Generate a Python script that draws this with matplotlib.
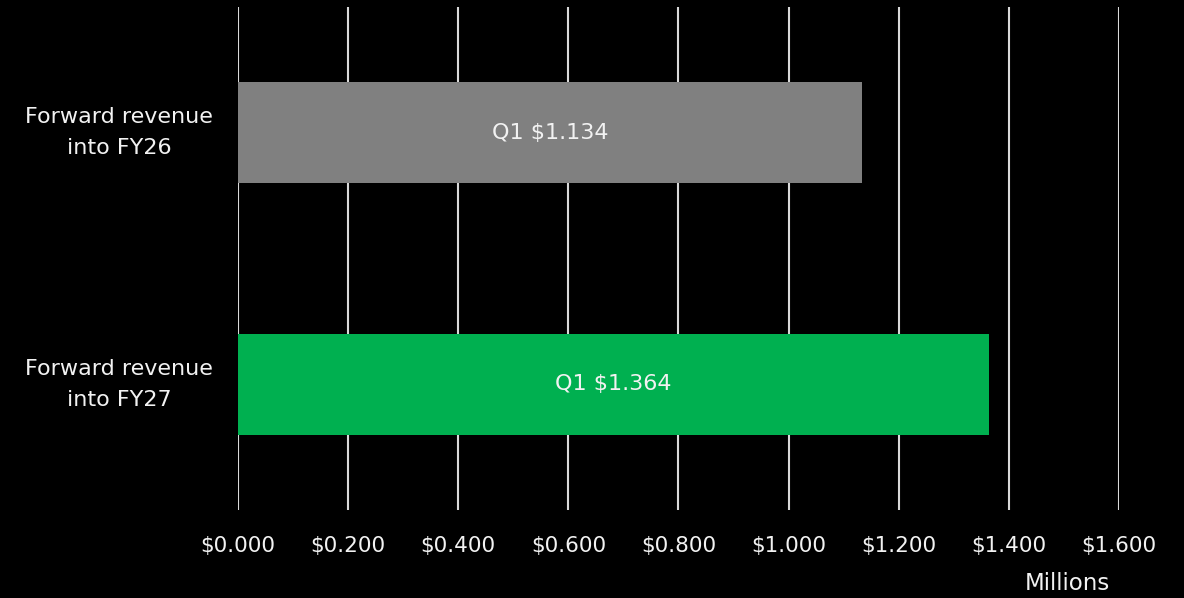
import matplotlib.pyplot as plt

# data
categories = ["Forward revenue\ninto FY26", "Forward revenue\ninto FY27"]
values = [1.134, 1.364]
bar_labels = ["Q1 $1.134", "Q1 $1.364"]
bar_colors = ["#808080", "#00B050"]
xticks = [0.0, 0.2, 0.4, 0.6, 0.8, 1.0, 1.2, 1.4, 1.6]

plt.rcParams['font.family'] = ['DejaVu Sans']

fig = plt.figure(figsize=(11.84, 5.98), dpi=100)
fig.patch.set_facecolor("black")
ax = fig.add_axes([0.201, 0.1472, 0.744, 0.8411])
ax.set_facecolor("black")

ypos = [0, 1]
bars = ax.barh(ypos, values, height=0.4, color=bar_colors, zorder=3)
for b, lab in zip(bars, bar_labels):
    ax.text(b.get_width() / 2, b.get_y() + b.get_height() / 2, lab,
            ha="center", va="center", color="#f2f2f2", fontsize=16, zorder=4)

ax.set_xlim(0, 1.6)
ax.set_ylim(1.5, -0.5)
ax.set_xticks(xticks)
ax.set_xticklabels([f"${v:.3f}" for v in xticks], color="#f2f2f2", fontsize=15.5)
ax.set_yticks(ypos)
ax.set_yticklabels(categories, color="#f2f2f2", fontsize=16, linespacing=1.7,
                   multialignment="center", va="center")
ax.tick_params(length=0)
ax.tick_params(axis="x", pad=19)
ax.tick_params(axis="y", pad=18)
ax.grid(axis="x", color="#d9d9d9", linewidth=1.5, zorder=0)
for s in ax.spines.values():
    s.set_visible(False)

fig.text(1067 / 1184, 1 - 584 / 598, "Millions", color="#f2f2f2", fontsize=16.5,
         ha="center", va="center")

fig.savefig("out.png", dpi=100, facecolor=fig.get_facecolor())
